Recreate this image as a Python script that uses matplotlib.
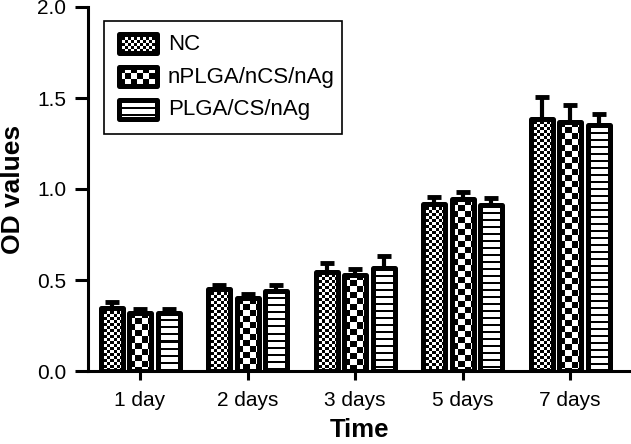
import numpy as np
import matplotlib.pyplot as plt
from matplotlib.patches import Rectangle

plt.rcParams['font.family'] = ['Liberation Sans', 'DejaVu Sans']

# ---------------- Data ----------------
days = ['1 day', '2 days', '3 days', '5 days', '7 days']
groups = ['NC', 'nPLGA/nCS/nAg', 'PLGA/CS/nAg']
nc_vals = [0.345, 0.45, 0.545, 0.915, 1.385]
nc_err = [0.035, 0.025, 0.05, 0.04, 0.12]
nplga_vals = [0.32, 0.40, 0.53, 0.945, 1.37]
nplga_err = [0.02, 0.025, 0.03, 0.04, 0.09]
plga_vals = [0.32, 0.44, 0.565, 0.91, 1.35]
plga_err = [0.02, 0.03, 0.065, 0.04, 0.06]

series = [(nc_vals, nc_err, 'fine'), (nplga_vals, nplga_err, 'coarse'),
          (plga_vals, plga_err, 'lines')]

# ---------------- Layout ----------------
W, H = 631, 444
fig = plt.figure(figsize=(W / 100, H / 100), dpi=100)
ax_l, ax_b, ax_w, ax_h = 88, 73, 543, 364   # pixels
ax = fig.add_axes([ax_l / W, ax_b / H, ax_w / W, ax_h / H])
XLIM = (-0.484, 4.567)
YLIM = (0, 2.0)
px_x = ax_w / (XLIM[1] - XLIM[0])
px_y = ax_h / (YLIM[1] - YLIM[0])


def pattern(kind, w_px, h_px):
    ii, jj = np.mgrid[0:max(int(round(h_px)), 1), 0:max(int(round(w_px)), 1)]
    if kind == 'fine':
        return ((ii // 3 + jj // 3) % 2).astype(float)
    if kind == 'coarse':
        return ((ii // 6 + jj // 6) % 2).astype(float)
    return ((ii % 7) >= 2).astype(float)


def fill_pattern(rect, kind):
    x0, y0 = rect.get_x(), rect.get_y()
    w, h = rect.get_width(), rect.get_height()
    pat = pattern(kind, w * px_x, h * px_y)
    im = ax.imshow(pat, cmap='gray', vmin=0, vmax=1, extent=(x0, x0 + w, y0, y0 + h),
                   interpolation='nearest', aspect='auto', zorder=3)
    im.set_clip_path(rect)
    return im


x = np.arange(len(days))
bw = 0.205
step = 0.265
lw_bar = 3.6

for k, (vals, errs, kind) in enumerate(series):
    pos = x + (k - 1) * step
    ax.errorbar(pos, vals, yerr=[np.zeros(len(errs)), errs], fmt='none', ecolor='black',
                elinewidth=3, capsize=5, capthick=3.5, zorder=1.5)
    fills = ax.bar(pos, vals, width=bw, facecolor='white', edgecolor='none', zorder=2)
    for r in fills:
        fill_pattern(r, kind)
    outl = ax.bar(pos, vals, width=bw, facecolor='none', edgecolor='black',
                  linewidth=lw_bar, zorder=4)
    for r in outl:
        r.set_joinstyle('round')

# ---------------- Legend (drawn by hand to show the patterns) ----------------
def to_data(px, py):
    # pixel position in the figure (from top-left) -> data coords
    return XLIM[0] + (px - ax_l) / px_x, YLIM[0] + (H - ax_b - py) / px_y


lx0, ly1 = to_data(104, 21)
lx1, ly0 = to_data(342, 134)
ax.add_patch(Rectangle((lx0, ly0), lx1 - lx0, ly1 - ly0, fill=False, edgecolor='black',
                       linewidth=1.2, zorder=5, clip_on=False))
for k, (name, (_, _, kind)) in enumerate(zip(groups, series)):
    cy = 44 + 33 * k
    hx0, hy1 = to_data(118.5, cy - 9.5)
    hx1, hy0 = to_data(156.5, cy + 9.5)
    bg = Rectangle((hx0, hy0), hx1 - hx0, hy1 - hy0, facecolor='white', edgecolor='none',
                   zorder=5)
    ax.add_patch(bg)
    fill_pattern(bg, kind).set_zorder(6)
    ax.add_patch(Rectangle((hx0, hy0), hx1 - hx0, hy1 - hy0, facecolor='none',
                           edgecolor='black', linewidth=lw_bar, joinstyle='round', zorder=7))
    tx, ty = to_data(168, cy)
    ax.text(tx, ty, name, fontsize=16, va='center', ha='left', zorder=7)

# ---------------- Axes ----------------
ax.set_xlim(*XLIM)
ax.set_ylim(*YLIM)
ax.set_xticks(x)
ax.set_xticklabels(days)
ax.set_yticks([0.0, 0.5, 1.0, 1.5, 2.0])
ax.set_yticklabels(['%.1f' % v for v in [0.0, 0.5, 1.0, 1.5, 2.0]])
for s in ['top', 'right']:
    ax.spines[s].set_visible(False)
for s in ['left', 'bottom']:
    ax.spines[s].set_linewidth(2.2)
ax.tick_params(axis='y', length=9.5, width=2.2, pad=6, labelsize=15)
ax.tick_params(axis='x', length=6.5, width=2.2, pad=8, labelsize=15)
ax.set_ylabel('OD values', fontsize=19, fontweight='bold', labelpad=9)
ax.set_xlabel('Time', fontsize=18.5, fontweight='bold', labelpad=6)

plt.savefig('out.png', dpi=100)
